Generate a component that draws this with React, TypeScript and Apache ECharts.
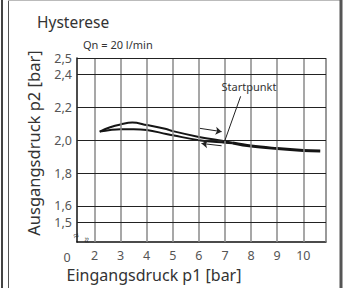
import React, { useEffect, useRef } from "react";
import * as echarts from "echarts";

const xTicks = [2, 3, 4, 5, 6, 7, 8, 9, 10];
const yTicks = [1.5, 1.6, 1.8, 2.0, 2.2, 2.4, 2.5];
const xMin = 1.33;
const xMax = 10.87;
const yMin = 1.38;
const yMax = 2.5;

// rising pressure branch (upper)
const upperP1 = [2.2, 2.6, 3.0, 3.45, 4.0, 4.75, 5.0, 6.0, 7.0, 7.3];
const upperP2 = [2.052, 2.079, 2.096, 2.107, 2.092, 2.068, 2.055, 2.02, 1.993, 1.984];
// falling pressure branch (lower)
const lowerP1 = [2.2, 2.6, 3.0, 3.5, 4.0, 4.75, 5.0, 6.0, 7.0, 7.3];
const lowerP2 = [2.052, 2.062, 2.067, 2.067, 2.062, 2.038, 2.03, 2.0, 1.985, 1.982];
// common tail
const tailP1 = [7.3, 8.0, 9.0, 10.0, 10.65];
const tailP2 = [1.983, 1.964, 1.949, 1.938, 1.934];

const title = "Hysterese";
const subtitle = "Qn = 20 l/min";
const xName = "Eingangsdruck p1 [bar]";
const yName = "Ausgangsdruck p2 [bar]";
const originLabel = "0";
const startLabel = "Startpunkt";

const font = "Noto Sans";

export default function App() {
  const ref = useRef<HTMLDivElement>(null);
  useEffect(() => {
    const chart = echarts.init(ref.current!, null, { renderer: "svg" });
    const pair = (xs: number[], ys: number[]) => xs.map((x, i) => [x, ys[i]]);
    const curveStyle = { color: "#151515", width: 2 };
    chart.setOption({
      animation: false,
      textStyle: { fontFamily: font, color: "#333" },
      title: [
        { text: title, left: 32, top: 9, textStyle: { fontFamily: font, fontSize: 15.5, fontWeight: "normal", color: "#333" } },
        { text: subtitle, left: 78, top: 34, textStyle: { fontFamily: font, fontSize: 11, fontWeight: "normal", color: "#333" } },
      ],
      grid: { left: 77, top: 58, right: 18, bottom: 44, containLabel: false },
      xAxis: {
        type: "value",
        min: xMin,
        max: xMax,
        name: xName,
        nameLocation: "middle",
        nameGap: 23,
        nameTextStyle: { fontFamily: font, fontSize: 16, color: "#333", padding: [0, 95, 0, 0] },
        axisLine: { show: true, lineStyle: { color: "#111", width: 1.5 } },
        axisTick: { show: false },
        splitLine: { show: false },
        axisLabel: { customValues: xTicks, fontSize: 12.5, color: "#555", margin: 7, fontFamily: font },
      },
      yAxis: {
        type: "value",
        min: yMin,
        max: yMax,
        name: yName,
        nameLocation: "middle",
        nameGap: 35,
        nameRotate: 90,
        nameTextStyle: { fontFamily: font, fontSize: 16.5, color: "#333", padding: [0, 0, 0, 14] },
        axisLine: { show: true, lineStyle: { color: "#111", width: 1.5 } },
        axisTick: { show: false },
        splitLine: { show: false },
        axisLabel: {
          customValues: yTicks,
          fontSize: 12.5,
          color: "#555",
          margin: 5,
          fontFamily: font,
          formatter: (v: number) => v.toFixed(1).replace(".", ","),
        },
      },
      series: [
        {
          type: "line",
          data: [],
          z: 1,
          silent: true,
          markLine: {
            silent: true,
            symbol: "none",
            label: { show: false },
            animation: false,
            data: [
              ...xTicks.map((v) => ({ xAxis: v, lineStyle: { color: "#8a8a8a", width: 1.5, type: "solid" } })),
              { xAxis: xMax, lineStyle: { color: "#777", width: 1.5, type: "solid" } },
              ...yTicks.map((v) => ({ yAxis: v, lineStyle: { color: "#222", width: 1, type: "solid" } })),
            ],
          },
        },
        {
          type: "line",
          z: 3,
          smooth: 0.4,
          showSymbol: false,
          lineStyle: curveStyle,
          data: pair(upperP1, upperP2),
          markLine: {
            silent: true,
            animation: false,
            label: { show: false },
            symbol: ["none", "arrow"],
            symbolSize: [6, 6],
            lineStyle: { color: "#222", width: 1, type: "solid" },
            data: [
              [{ coord: [6.04, 2.072] }, { coord: [6.87, 2.052] }],
              [{ coord: [6.87, 1.966] }, { coord: [6.1, 1.98] }],
              [{ coord: [7.6, 2.267], symbol: "none" }, { coord: [7.0, 2.0], symbol: "none" }],
            ],
          },
          markPoint: {
            silent: true,
            animation: false,
            symbol: "circle",
            symbolSize: 1,
            itemStyle: { color: "transparent" },
            label: { show: true, position: "inside", formatter: startLabel, fontSize: 11, color: "#333", fontFamily: font },
            data: [{ coord: [7.92, 2.325] }],
          },
        },
        {
          type: "line",
          z: 3,
          smooth: 0.4,
          showSymbol: false,
          lineStyle: curveStyle,
          data: pair(lowerP1, lowerP2),
        },
        {
          type: "line",
          z: 3,
          smooth: 0.4,
          showSymbol: false,
          lineStyle: { color: "#151515", width: 3 },
          data: pair(tailP1, tailP2),
        },
      ],
      graphic: [
        { type: "rect", left: 1, top: 0, shape: { width: 2, height: 288 }, style: { fill: "#444" } },
        { type: "line", shape: { x1: 8.5, y1: 0, x2: 8.5, y2: 288 }, style: { stroke: "#555", lineWidth: 1 } },
        { type: "line", shape: { x1: 8, y1: 0.5, x2: 340, y2: 0.5 }, style: { stroke: "#bbb", lineWidth: 1 } },
        { type: "rect", left: 339.5, top: 0, shape: { width: 3, height: 288 }, style: { fill: "#555" } },
        { type: "text", x: 67, y: 257, style: { text: originLabel, fontSize: 12.5, fill: "#555", fontFamily: font, align: "center", verticalAlign: "middle" } },
        { type: "text", x: 76, y: 235, rotation: 0.3, style: { text: "≈", fontSize: 10, fill: "#444", fontFamily: font, align: "center", verticalAlign: "middle" } },
        { type: "text", x: 86, y: 240, rotation: Math.PI / 2, style: { text: "≈", fontSize: 10, fill: "#444", fontFamily: font, align: "center", verticalAlign: "middle" } },
      ],
    });
    return () => chart.dispose();
  }, []);
  return <div ref={ref} style={{ width: 344, height: 288, position: "absolute", left: 0, top: 0 }} />;
}
